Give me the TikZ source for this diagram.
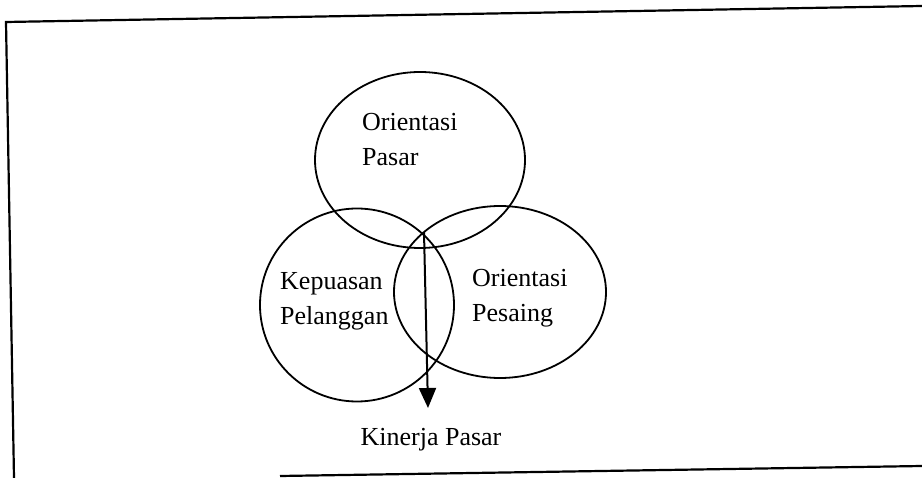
\documentclass[tikz,border=0pt]{standalone}
\usepackage{fontspec}
\setmainfont{Liberation Serif}
\usetikzlibrary{shapes.geometric,arrows.meta}
\tikzset{
  venn/.style={draw, ellipse, line width=1.8pt, inner sep=0pt},
  lbl/.style={anchor=west, align=left, inner sep=0pt, font=\fontsize{26}{35}\selectfont},
  frameline/.style={line width=2.2pt},
  flow/.style={line width=2pt, -{Triangle[length=20pt,width=17pt]}}
}
\begin{document}
\begin{tikzpicture}[x=1pt,y=-1pt]
\useasboundingbox (0,0) rectangle (922,478);
% scanned frame
\coordinate (fbl) at (14,478);
\coordinate (ftl) at (6,22);
\coordinate (ftr) at (922,6);
\coordinate (bbl) at (280,476);
\coordinate (bbr) at (922,466);
\draw[frameline] (fbl) -- (ftl) -- (ftr);
\draw[frameline] (bbl) -- (bbr);
% circles
\node[venn, minimum width=210pt, minimum height=176pt] (pasar) at (420,160) {};
\node[venn, minimum width=194pt, minimum height=193pt] (puas) at (357,305) {};
\node[venn, minimum width=212pt, minimum height=172pt] (saing) at (500,292) {};
% labels
\node[lbl] (tpasar) at (362,140) {Orientasi\\Pasar};
\node[lbl] (tpuas) at (280,301) {Kepuasan\\Pelanggan};
\node[lbl] (tsaing) at (472,298) {Orientasi\\Pesaing};
\node[font=\fontsize{26}{35}\selectfont, inner sep=0pt] (kinerja) at (431,440) {Kinerja Pasar};
% arrow
\coordinate (astart) at (424,232);
\coordinate (aend) at (428,408);
\draw[flow] (astart) -- (aend);
\end{tikzpicture}
\end{document}
